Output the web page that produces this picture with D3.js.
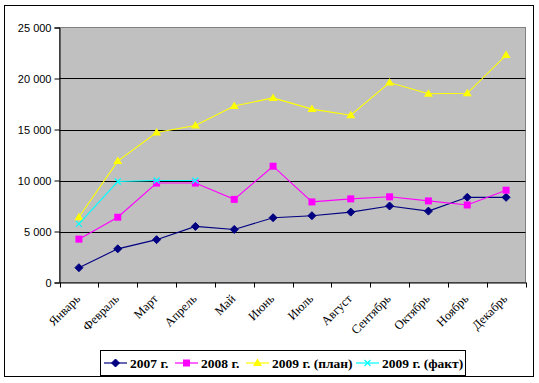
<!DOCTYPE html>
<html><head><meta charset="utf-8">
<script src="https://cdn.jsdelivr.net/npm/d3@7"></script>
<style>body{margin:0;background:#fff}svg{display:block}</style>
</head><body><svg id="c" width="539" height="383"></svg>
<script>
const months = ["Январь","Февраль","Март","Апрель","Май","Июнь","Июль","Август","Сентябрь","Октябрь","Ноябрь","Декабрь"];
const s2007 = [1450,3300,4200,5500,5200,6350,6550,6900,7500,7000,8350,8350];
const s2008 = [4250,6400,9750,9750,8150,11400,7900,8200,8400,8000,7600,9050];
const s2009plan = [6400,11900,14700,15400,17300,18100,17000,16400,19600,18500,18550,22300];
const s2009fact = [5750,9900,10000,10000];
const yTicks = [0,5000,10000,15000,20000,25000];
const seriesNames = ["2007 г.","2008 г.","2009 г. (план)","2009 г. (факт)"];
const seriesColors = ["#000080","#FF00FF","#FFFF00","#00FFFF"];
const seriesMarkers = ["diamond","square","triangle","x"];
const seriesData = [s2007,s2008,s2009plan,s2009fact];

const svg = d3.select("#c");
svg.append("rect").attr("x",4.5).attr("y",5.5).attr("width",529).attr("height",371).attr("fill","#fff").attr("stroke","#000");

const L=59.5,R=525.5,T=27.5,B=282.5;
const x = d3.scaleBand().domain(months).range([L,R]);
const y = d3.scaleLinear().domain([0,25000]).range([B,T]);

svg.append("rect").attr("x",L).attr("y",T).attr("width",R-L).attr("height",B-T).attr("fill","#C0C0C0").attr("stroke","#808080");

// gridlines
svg.append("g").selectAll("line").data(yTicks.filter(d=>d>0&&d<25000)).join("line")
 .attr("x1",L).attr("x2",R).attr("y1",d=>Math.round(y(d))+0.5).attr("y2",d=>Math.round(y(d))+0.5).attr("stroke","#000");

const fmt = d=> d3.format(",")(d).replace(/,/g," ");
const ya = svg.append("g").attr("transform",`translate(${L},0)`)
 .call(d3.axisLeft(y).tickValues(yTicks).tickFormat(fmt).tickSize(5).tickPadding(3));
ya.select(".domain").attr("stroke","#000");
ya.selectAll("text").attr("font-family","Arial, 'Liberation Sans', sans-serif").attr("font-size","11px").attr("fill","#000");

const xa = svg.append("g").attr("transform",`translate(0,${B})`)
 .call(d3.axisBottom(x).tickSize(0).tickFormat(""));
xa.select(".domain").attr("stroke","#000");
// boundary ticks
svg.append("g").selectAll("line").data(d3.range(13)).join("line")
 .attr("x1",i=>Math.round(L+i*x.bandwidth())+0.5).attr("x2",i=>Math.round(L+i*x.bandwidth())+0.5)
 .attr("y1",B).attr("y2",B+5).attr("stroke","#000");

svg.append("g").selectAll("text").data(months).join("text")
 .attr("transform",d=>`translate(${x(d)+x.bandwidth()/2+2},${B+17}) rotate(-45)`)
 .attr("text-anchor","end")
 .attr("font-family","'Times New Roman','Liberation Serif',serif").attr("font-size","12.5px")
 .text(d=>d);

const cx = (i)=> x(months[i])+x.bandwidth()/2;

function marker(g,type,color,px,py){
  if(type==="diamond"){
    g.append("path").attr("d",`M${px},${py-4}L${px+4},${py}L${px},${py+4}L${px-4},${py}Z`).attr("fill",color).attr("stroke",color);
  } else if(type==="square"){
    g.append("rect").attr("x",px-3.5).attr("y",py-3.5).attr("width",7).attr("height",7).attr("fill",color);
  } else if(type==="triangle"){
    g.append("path").attr("d",`M${px},${py-4.5}L${px+4.5},${py+3}L${px-4.5},${py+3}Z`).attr("fill",color);
  } else {
    g.append("path").attr("d",`M${px-3},${py-3}L${px+3},${py+3}M${px+3},${py-3}L${px-3},${py+3}`).attr("stroke",color).attr("stroke-width",1.2);
  }
}

const line = d3.line().x((d,i)=>cx(i)).y(d=>y(d));
seriesData.forEach((data,k)=>{
  const g = svg.append("g");
  g.append("path").attr("d",line(data)).attr("fill","none").attr("stroke",seriesColors[k]).attr("stroke-width",1.1);
  data.forEach((v,i)=>marker(g,seriesMarkers[k],seriesColors[k],cx(i),y(v)));
});

// legend
const lg = svg.append("g");
lg.append("rect").attr("x",100.5).attr("y",350.5).attr("width",365).attr("height",25).attr("fill","#fff").attr("stroke","#000");
const legX = [104,175,246,356];
seriesNames.forEach((n,k)=>{
  const x0 = legX[k];
  lg.append("line").attr("x1",x0).attr("x2",x0+23).attr("y1",363).attr("y2",363).attr("stroke",seriesColors[k]).attr("stroke-width",1.2);
  marker(lg,seriesMarkers[k],seriesColors[k],x0+11.5,363);
  lg.append("text").attr("x",x0+26).attr("y",368).attr("font-family","'Times New Roman','Liberation Serif',serif")
    .attr("font-weight","bold").attr("font-size","13.5px").text(n);
});
</script></body></html>
